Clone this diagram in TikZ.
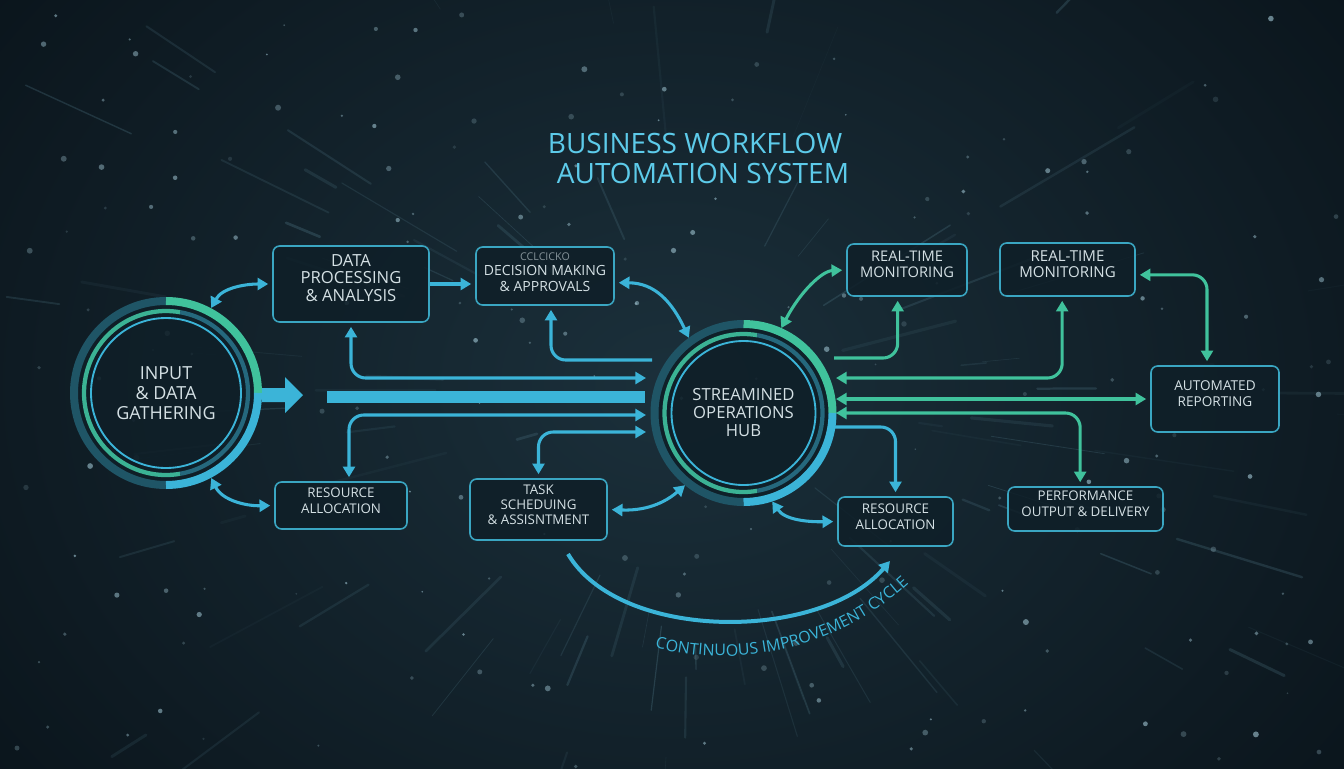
\documentclass[tikz,border=0pt]{standalone}
\usepackage{fontspec}
\setmainfont{Open Sans}
\usetikzlibrary{arrows.meta,fit,decorations.text,calc}
\definecolor{bg}{HTML}{0A141B}
\definecolor{bgl}{HTML}{1B303B}
\definecolor{cblue}{HTML}{3BB4D8}
\definecolor{cgreen}{HTML}{40C29C}
\definecolor{cdark}{HTML}{1F5566}
\definecolor{boxfill}{HTML}{0F1F28}
\definecolor{boxline}{HTML}{3AA6C2}
\definecolor{txt}{HTML}{D4E0E4}
\definecolor{ttlc}{HTML}{5DCBEA}
\definecolor{streak}{HTML}{6FA3B5}
\newcommand\myrings[2]{%
  \fill[boxfill, opacity=0.9] (#1) circle[radius=#2-4];
  \draw[cdark, line width=6pt] (#1) ++(90:#2) arc[start angle=90,end angle=270,radius=#2];
  \draw[cgreen, line width=6pt] (#1) ++(-90:#2) arc[start angle=-90,end angle=0,radius=#2];
  \draw[cblue, line width=6pt] (#1) ++(0:#2) arc[start angle=0,end angle=90,radius=#2];
  \draw[cgreen!85!cdark, line width=3.2pt] (#1) ++(80:#2-10) arc[start angle=80,end angle=280,radius=#2-10];
  \draw[cdark!80!cblue, line width=3.2pt] (#1) ++(-80:#2-10) arc[start angle=-80,end angle=80,radius=#2-10];
  \draw[cblue, line width=1.4pt] (#1) circle[radius=#2-17];
}
\tikzset{
  box/.style={draw=boxline, line width=1.2pt, rounded corners=5pt, fill=boxfill, fill opacity=0.85, text opacity=1, inner sep=0pt, align=center, text=txt},
  circ/.style={circle, inner sep=0pt, align=center, text=txt},
  ttl/.style={text=ttlc, font=\fontsize{21}{24}\selectfont, inner sep=0pt},
  link/.style={line width=2.3pt, rounded corners=11pt},
  tip/.style={-{Triangle[length=8pt,width=9pt]}},
  tips/.style={{Triangle[length=8pt,width=9pt]}-{Triangle[length=8pt,width=9pt]}},
}
\begin{document}
\begin{tikzpicture}[x=0.75pt,y=-0.75pt]
\useasboundingbox (0,0) rectangle (1344,768);
% background
\begin{scope}
\clip (0,0) rectangle (1344,768);
\fill[bg] (0,0) rectangle (1344,768);
\shade[inner color=bgl, outer color=bg] (-200,-300) rectangle (1544,1068);
\pgfmathsetseed{11}
\foreach \i in {1,...,140}{
  \pgfmathsetmacro\a{rnd*360}
  \pgfmathsetmacro\ra{150+rnd*500}
  \pgfmathsetmacro\rl{20+rnd*140}
  \pgfmathsetmacro\op{0.04+rnd*0.18}
  \pgfmathsetmacro\lw{0.4+rnd*2}
  \draw[streak, opacity=\op, line width=\lw pt, line cap=round] (690,390) ++(\a:\ra) -- ++(\a:\rl);
}
\foreach \i in {1,...,190}{
  \pgfmathsetmacro\op{0.15+rnd*0.5}
  \pgfmathsetmacro\rr{0.8+rnd*2.2}
  \fill[streak!70!white, opacity=\op] ({rnd*1344},{rnd*768}) circle[radius=\rr];
}
\end{scope}

% circles
\coordinate (inpc) at (166,393);
\coordinate (hubc) at (743.5,413);
\myrings{inpc}{92}
\myrings{hubc}{89}
\node[circ, minimum size=144pt, font=\fontsize{13.5}{15}\selectfont] (inp) at (inpc) {INPUT\\\& DATA\\GATHERING};
\node[circ, minimum size=139pt, font=\fontsize{12.5}{13.5}\selectfont] (hub) at (hubc) {STREAMINED\\OPERATIONS\\HUB};

% title
\node[ttl] (t1) at (695,143) {BUSINESS WORKFLOW};
\node[ttl] (t2) at (703,173) {AUTOMATION SYSTEM};

% boxes
\node[box, fit={(273,246) (429,322)}, font=\fontsize{12.5}{13}\selectfont] (dp) {DATA\\PROCESSING\\\& ANALYSIS};
\node[box, fit={(476,247) (614,305)}, font=\fontsize{10.5}{12}\selectfont] (dm) {{\fontsize{8}{9}\selectfont\color{txt!60!boxfill}CCLCICKO}\\[-1pt]DECISION MAKING\\\& APPROVALS};
\node[box, fit={(275,482) (407,529)}, font=\fontsize{10}{12}\selectfont] (ra1) {RESOURCE\\ALLOCATION};
\node[box, fit={(470,479) (607,540)}, font=\fontsize{10}{11.5}\selectfont] (ts) {TASK\\SCHEDUING\\\& ASSISNTMENT};
\node[box, fit={(847,244) (967,296)}, font=\fontsize{11}{12}\selectfont] (rt1) {REAL-TIME\\MONITORING};
\node[box, fit={(1000,243) (1135,296)}, font=\fontsize{11.3}{12.5}\selectfont] (rt2) {REAL-TIME\\MONITORING};
\node[box, fit={(1151,366) (1279,432)}, font=\fontsize{10.2}{12}\selectfont] (ar) {AUTOMATED\\REPORTING};
\node[box, fit={(1008,487) (1163,531)}, font=\fontsize{10}{12}\selectfont] (pf) {PERFORMANCE\\OUTPUT \& DELIVERY};
\node[box, fit={(838,497) (953,546)}, font=\fontsize{10}{12}\selectfont] (ra2) {RESOURCE\\ALLOCATION};

% hub port coordinates
\coordinate (hl1) at (652,360);
\coordinate (hl2) at (646,378);
\coordinate (hlb) at (645,397);
\coordinate (hl3) at (646,415);
\coordinate (hl4) at (646,432);
\coordinate (hr1) at (834,358);
\coordinate (hr2) at (836,378);
\coordinate (hr3) at (836,399);
\coordinate (hr4) at (836,413);
\coordinate (hr5) at (834,427);

% big arrow and bar
\coordinate (barrow) at (262,395);
\coordinate (barstart) at (327,397);
\fill[cblue] (barrow) ++(0,-7) -- ++(23,0) -- ++(0,-11) -- (303,395) -- (285,413) -- ++(0,-11) -- ++(-23,0) -- cycle;
\draw[cblue, line width=9.5pt] (barstart) -- (hlb);

% left connectors
\draw[link, cblue, tips, shorten <=3pt] (dp.south) |- (hl2);
\draw[link, cblue, tip, shorten >=3pt] (hl1) -| ([xshift=4.5pt]dm.south);
\draw[link, cblue, tips, shorten <=3pt] ([xshift=6pt]ra1.north) |- (hl3);
\draw[link, cblue, tips, shorten <=3pt] (ts.north) |- (hl4);
\draw[link, cblue, tip, shorten >=3pt] (dp.east) -- (dp.east -| dm.west);
\draw[link, cblue, tips, shorten <=3pt] ([yshift=-5pt]dm.east) .. controls (655,283) and (672,302) .. (hub.126);
\draw[link, cblue, tips, shorten <=3pt] (ts.east) .. controls (650,511) and (668,500) .. (hub.231);
\draw[link, cblue, tips, shorten >=3pt] (inp.62) .. controls (222,288) and (245,284) .. (dp.west);
\draw[link, cblue, tips, shorten >=3pt] (inp.-62) .. controls (222,500) and (245,506) .. (ra1.west);

% right connectors
\draw[link, cgreen, tips, shorten >=3pt] (hub.66) .. controls (800,292) and (822,271) .. (rt1.west);
\draw[link, cgreen, tip, shorten >=3pt] (hr1) -| ([xshift=-7pt]rt1.south);
\draw[link, cgreen, tips, shorten <=3pt] ([xshift=-4pt]rt2.south) |- (hr2);
\draw[link, cgreen, tips, shorten >=3pt] (hr3) -- (hr3 -| ar.west);
\draw[link, cgreen, tips, shorten <=3pt] ([xshift=-4pt]pf.north) |- (hr4);
\draw[link, cgreen, tips, shorten <=3pt, shorten >=3pt] ([yshift=-4pt]rt2.east) -| ([xshift=-6pt]ar.north);
\draw[link, cblue, tip, shorten >=3pt] (hr5) -| (ra2.north);
\draw[link, cblue, tips, shorten >=3pt] (hub.-72) .. controls (785,520) and (808,522) .. (ra2.west);

% continuous improvement cycle
\coordinate (ic1) at (568,554);
\coordinate (ic2) at (890,561);
\draw[cblue, line width=3pt, tip] (ic1) .. controls (620,642) and (820,642) .. (ic2);
\coordinate (icc) at (722,379);
\path[decorate, decoration={text along path, text={|\fontsize{12}{14}\selectfont\color{cblue}|CONTINUOUS IMPROVEMENT CYCLE}}] (icc) ++(104:277) arc[start angle=104, end angle=38, radius=277];
\end{tikzpicture}
\end{document}
